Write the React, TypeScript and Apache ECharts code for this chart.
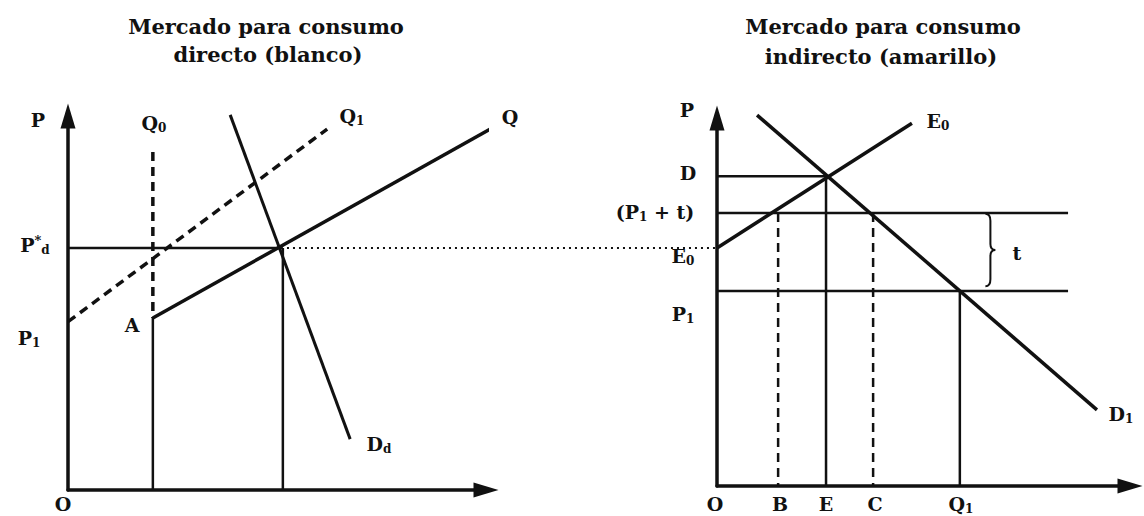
import React, { useEffect, useRef } from "react";
import * as echarts from "echarts";

// ---------- Left panel: "Mercado para consumo directo (blanco)" (panel units 0–100) ----------
const leftQ0 = 20.3; // quantity Q0
const leftEqQ = 51.4; // equilibrium quantity
const leftPd = 64.7; // P*d
const leftA = 46; // point A price level
const leftQ0DashTop = 90.4; // top of dashed Q0 line
const leftSupplyQ1: number[][] = [[0, 45], [62, 96.5]]; // dashed Q1 supply
const leftSupplyQ: number[][] = [[20.3, 46], [101, 96.5]]; // solid Q supply (from A)
const leftDemandDd: number[][] = [[38.8, 100.3], [67.5, 13.6]]; // demand Dd
const leftDottedEnd = 155.3; // dotted link reaching the right panel's axis (left-panel units)

// ---------- Right panel: "Mercado para consumo indirecto (amarillo)" ----------
const rightD = 84.2; // price D
const rightP1t = 74.2; // (P1 + t)
const rightP1 = 53.0; // P1
const rightB = 14.8;
const rightE = 26.4;
const rightC = 37.8;
const rightQ1 = 58.8;
const rightSupplyE0: number[][] = [[0, 64.7], [47.2, 98.6]];
const rightDemandD1: number[][] = [[9.7, 100.8], [92, 20.7]];
const rightHLineEnd = 85;
const rightBrace: number[][] = [[66.2, 74.0, 54.3]]; // x, top, bottom of the "t" brace

const INK = "#111";
const SERIF = "'DejaVu Serif', 'Liberation Serif', serif";

const rich = {
  m: { fontSize: 19, fontWeight: "bold", fontFamily: SERIF, color: INK, lineHeight: 22 },
  s: { fontSize: 12, fontWeight: "bold", fontFamily: SERIF, color: INK, lineHeight: 12, verticalAlign: "bottom" },
  u: { fontSize: 13, fontWeight: "bold", fontFamily: SERIF, color: INK, lineHeight: 12, verticalAlign: "top" },
};

function seg(grid: number, data: number[][], width: number, type: any = "solid") {
  return {
    type: "line",
    xAxisIndex: grid,
    yAxisIndex: grid,
    data,
    symbol: "none",
    showSymbol: false,
    clip: false,
    silent: true,
    animation: false,
    lineStyle: { color: INK, width, type, cap: "butt" },
    z: 3,
  };
}

function axisPair(grid: number, max: number, show: boolean) {
  const line = {
    show,
    onZero: false,
    symbol: ["none", "triangle"],
    symbolSize: [15, 25],
    lineStyle: { color: INK, width: 3.5 },
  };
  const x = {
    gridIndex: grid,
    type: "value",
    min: 0,
    max,
    axisLine: line,
    axisTick: { show: false },
    axisLabel: { show: false },
    splitLine: { show: false },
  };
  const y = { ...x, max: 100 };
  return [x, y];
}

function label(x: number, y: number, text: string) {
  return {
    type: "text",
    x,
    y,
    silent: true,
    style: { text, rich, align: "center", verticalAlign: "middle", fill: INK },
    z: 10,
  };
}

function title(x: number, y: number, text: string) {
  return {
    type: "text",
    x,
    y,
    silent: true,
    style: {
      text,
      fontSize: 21,
      fontWeight: "bold",
      fontFamily: SERIF,
      fill: INK,
      align: "center",
      verticalAlign: "middle",
    },
  };
}

export default function App() {
  const ref = useRef<HTMLDivElement>(null);

  useEffect(() => {
    if (!ref.current) return;
    const chart = echarts.init(ref.current, null, { renderer: "svg" });
    const [lx, ly] = axisPair(0, 100, true);
    const [rx, ry] = axisPair(1, 100, true);
    const [bx, by] = axisPair(2, leftDottedEnd, false);

    const option: any = {
      animation: false,
      backgroundColor: "#fff",
      grid: [
        { left: 68, top: 116, width: 418, height: 374 },
        { left: 717, top: 118, width: 413, height: 368 },
        // bridge grid: same origin and scale as the left panel, reaching the right axis
        { left: 68, top: 116, width: 649, height: 374 },
      ],
      xAxis: [lx, rx, bx],
      yAxis: [ly, ry, by],
      series: [
        // ---- left panel ----
        seg(0, [[leftQ0, leftQ0DashTop], [leftQ0, leftA]], 3.5, [9, 6]),
        seg(0, [[leftQ0, leftA], [leftQ0, 0]], 2.5),
        seg(0, leftSupplyQ1, 3.5, [9, 6]),
        seg(0, leftSupplyQ, 3.5),
        seg(0, leftDemandDd, 3),
        seg(0, [[0, leftPd], [leftEqQ, leftPd]], 2.5),
        seg(0, [[leftEqQ, leftPd], [leftEqQ, 0]], 2.5),
        seg(2, [[leftEqQ + 1, leftPd], [leftDottedEnd, leftPd]], 1.8, [2, 4]),
        // ---- right panel ----
        seg(1, rightSupplyE0, 3.5),
        seg(1, rightDemandD1, 3.5),
        seg(1, [[0, rightD], [rightE, rightD]], 2.5),
        seg(1, [[rightE, rightD], [rightE, 0]], 2.5),
        seg(1, [[0, rightP1t], [rightHLineEnd, rightP1t]], 2.5),
        seg(1, [[0, rightP1], [rightHLineEnd, rightP1]], 2.5),
        seg(1, [[rightB, rightP1t], [rightB, 0]], 2.5, [9, 6]),
        seg(1, [[rightC, rightP1t], [rightC, 0]], 2.5, [9, 6]),
        seg(1, [[rightQ1, rightP1], [rightQ1, 0]], 2.5),
        {
          type: "custom",
          xAxisIndex: 1,
          yAxisIndex: 1,
          data: rightBrace,
          clip: false,
          silent: true,
          renderItem: (_p: any, api: any) => {
            const top = api.coord([api.value(0), api.value(1)]);
            const bot = api.coord([api.value(0), api.value(2)]);
            const x0 = top[0] - 5;
            const y0 = top[1];
            const y1 = bot[1];
            const ym = (y0 + y1) / 2;
            const xm = x0 + 5;
            const d =
              `M${x0} ${y0} Q${xm} ${y0} ${xm} ${y0 + 7} L${xm} ${ym - 6} ` +
              `Q${xm} ${ym} ${xm + 5} ${ym} Q${xm} ${ym} ${xm} ${ym + 6} ` +
              `L${xm} ${y1 - 7} Q${xm} ${y1} ${x0} ${y1}`;
            return {
              type: "path",
              shape: { pathData: d },
              style: { fill: "none", stroke: INK, lineWidth: 2 },
            };
          },
        },
      ],
      graphic: [
        title(266, 26, "Mercado para consumo"),
        title(268, 54, "directo (blanco)"),
        title(883, 26, "Mercado para consumo"),
        title(881, 56, "indirecto (amarillo)"),
        // left labels
        label(38, 120, "{m|P}"),
        label(154, 123, "{m|Q}{s|0}"),
        label(352, 116, "{m|Q}{s|1}"),
        label(510, 117, "{m|Q}"),
        label(35, 245, "{m|P}{u|*}{s|d}"),
        label(132, 325, "{m|A}"),
        label(29, 338, "{m|P}{s|1}"),
        label(379, 444, "{m|D}{s|d}"),
        label(63, 504, "{m|O}"),
        // right labels
        label(687, 110, "{m|P}"),
        label(938, 121, "{m|E}{s|0}"),
        label(688, 173, "{m|D}"),
        label(655, 212, "{m|(P}{s|1}{m| + t)}"),
        label(683, 256, "{m|E}{s|0}"),
        label(1017, 253, "{m|t}"),
        label(683, 314, "{m|P}{s|1}"),
        label(1121, 414, "{m|D}{s|1}"),
        label(715, 504, "{m|O}"),
        label(780, 504, "{m|B}"),
        label(826, 504, "{m|E}"),
        label(875, 504, "{m|C}"),
        label(961, 504, "{m|Q}{s|1}"),
      ],
    };
    chart.setOption(option);
    return () => chart.dispose();
  }, []);

  return (
    <div
      ref={ref}
      style={{ position: "absolute", left: 0, top: 0, width: 1144, height: 516, background: "#fff" }}
    />
  );
}
